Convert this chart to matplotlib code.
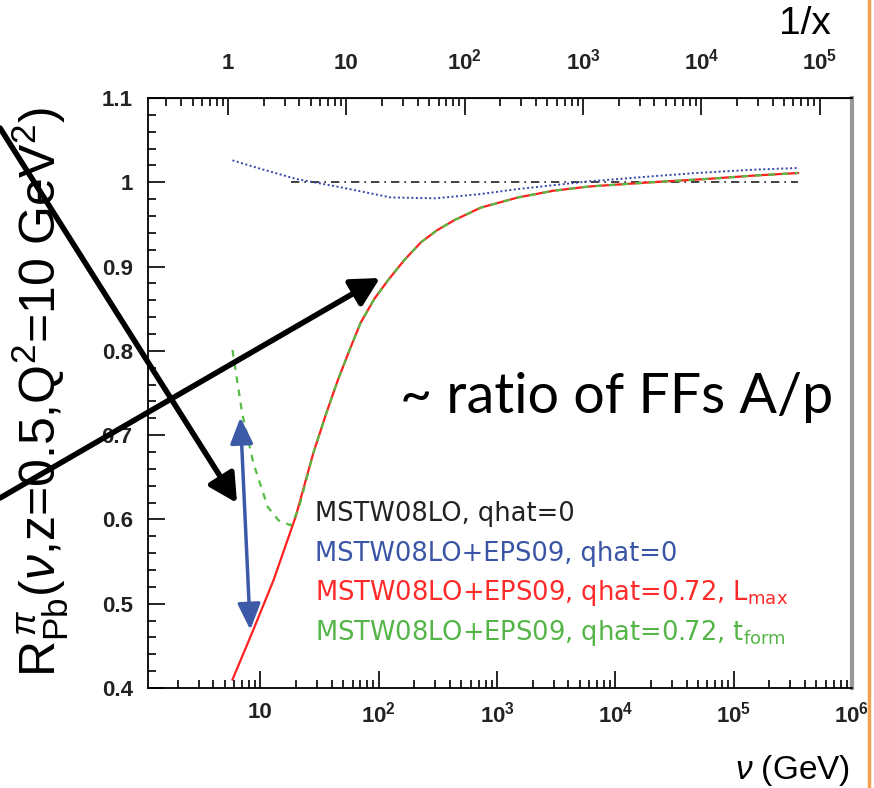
import matplotlib.pyplot as plt
import numpy as np
from matplotlib.lines import Line2D
from matplotlib.patches import FancyArrowPatch
from matplotlib.ticker import FixedLocator, LogLocator, NullFormatter, MultipleLocator

plt.rcParams['font.family'] = ['Liberation Sans', 'DejaVu Sans']
plt.rcParams['mathtext.fontset'] = 'custom'
plt.rcParams['mathtext.rm'] = 'Liberation Sans'
plt.rcParams['mathtext.it'] = 'Liberation Sans:italic'
plt.rcParams['mathtext.bf'] = 'Liberation Sans:bold'

# values
nu_black = [18, 3.5e5]
r_black = [1.0, 1.0]

nu_blue = [5.8, 10, 20, 48, 126, 300, 724, 1500, 5900, 2e4, 4.8e4, 1.5e5, 3.5e5]
r_blue = [1.026, 1.016, 1.004, 0.994, 0.982, 0.981, 0.986, 0.992, 1.001, 1.007, 1.011, 1.015, 1.017]

nu_red = [5.8, 8.7, 12.9, 19.8, 28, 36, 45, 57, 70, 92, 120, 165, 228, 310, 434, 730, 1500, 3000,
          6000, 2e4, 6e4, 1.5e5, 3.5e5]
r_red = [0.41, 0.469, 0.528, 0.603, 0.679, 0.726, 0.765, 0.802, 0.833, 0.862, 0.884, 0.908, 0.929,
         0.943, 0.955, 0.970, 0.982, 0.990, 0.995, 1.000, 1.004, 1.008, 1.011]

nu_green = [5.8, 7.0, 8.7, 11.5, 14.2, 18.0, 21, 28, 36, 45, 57, 70, 92, 120, 165, 228, 310, 434,
            730, 1500, 3000, 6000, 2e4, 6e4, 1.5e5, 3.5e5]
r_green = [0.801, 0.726, 0.667, 0.615, 0.599, 0.593, 0.612, 0.679, 0.726, 0.765, 0.802, 0.833,
           0.862, 0.884, 0.908, 0.929, 0.943, 0.955, 0.970, 0.982, 0.990, 0.995, 1.000, 1.004,
           1.008, 1.011]

nu_ticks = [10, 1e2, 1e3, 1e4, 1e5, 1e6]
nu_labels = ['10', r'$\mathbf{10^2}$', r'$\mathbf{10^3}$', r'$\mathbf{10^4}$', r'$\mathbf{10^5}$',
             r'$\mathbf{10^6}$']
ix_ticks = [1, 10, 1e2, 1e3, 1e4, 1e5]
ix_labels = ['1', '10', r'$\mathbf{10^2}$', r'$\mathbf{10^3}$', r'$\mathbf{10^4}$', r'$\mathbf{10^5}$']
r_ticks = [0.4, 0.5, 0.6, 0.7, 0.8, 0.9, 1.0, 1.1]
r_labels = ['0.4', '0.5', '0.6', '0.7', '0.8', '0.9', '1', '1.1']

legend_texts = ['MSTW08LO, qhat=0',
                'MSTW08LO+EPS09, qhat=0',
                r'MSTW08LO+EPS09, qhat=0.72, L$_{\mathregular{max}}$',
                r'MSTW08LO+EPS09, qhat=0.72, t$_{\mathregular{form}}$']
legend_colors = ['#222222', '#3a55a6', '#ff2a2a', '#55b548']

# 1/x = 2 M nu / Q^2 with M = 0.938 GeV, Q^2 = 10 GeV^2
conv = 2 * 0.938 / 10.0

W, H = 874, 788
fig = plt.figure(figsize=(W / 100, H / 100), dpi=100)
ax = fig.add_axes([148 / W, 1 - 688 / H, 704 / W, 590 / H])

ax.plot(nu_black, r_black, color='#222222', lw=1.2, dashes=(5, 3, 1, 3))
ax.plot(nu_blue, r_blue, color='#3344aa', lw=1.4, dashes=(1, 1.3))
ax.plot(nu_red, r_red, color='#ff2020', lw=1.6)
ax.plot(nu_green, r_green, color='#55bb44', lw=1.6, dashes=(3, 3))

ax.set_xscale('log')
ax.set_xlim(1.12, 1.0e6)
ax.set_ylim(0.4, 1.1)

tick_font = dict(fontsize=16, fontweight='bold', color='#222222')

ax.xaxis.set_major_locator(FixedLocator(nu_ticks))
ax.set_xticklabels(nu_labels, **tick_font)
ax.xaxis.set_minor_locator(LogLocator(base=10, subs=np.arange(2, 10)))
ax.xaxis.set_minor_formatter(NullFormatter())
ax.yaxis.set_major_locator(FixedLocator(r_ticks))
ax.set_yticklabels(r_labels, **tick_font)
ax.yaxis.set_minor_locator(MultipleLocator(0.02))

ax.tick_params(which='both', direction='in', top=False, right=False, width=1.2)
ax.tick_params(which='major', length=12)
ax.tick_params(which='minor', length=6)
ax.tick_params(axis='x', pad=10)
ax.tick_params(axis='y', pad=11)

for s in ['left', 'bottom', 'top']:
    ax.spines[s].set_linewidth(1.3)
ax.spines['right'].set_color('#999999')
ax.spines['right'].set_linewidth(3)

sec = ax.secondary_xaxis('top', functions=(lambda v: v * conv, lambda ix: ix / conv))
sec.xaxis.set_major_locator(FixedLocator(ix_ticks))
sec.set_xticklabels(ix_labels, **tick_font)
sec.xaxis.set_minor_locator(LogLocator(base=10, subs=np.arange(2, 10)))
sec.xaxis.set_minor_formatter(NullFormatter())
sec.tick_params(which='both', direction='in', width=1.2, pad=17)
sec.tick_params(which='major', length=12)
sec.tick_params(which='minor', length=6)

# blue double arrow
ax.annotate('', xy=(8.2, 0.469), xytext=(6.77, 0.721),
            arrowprops=dict(arrowstyle='<|-|>,head_length=0.8,head_width=0.35', color='#3d5aa8',
                            lw=2.5, shrinkA=0, shrinkB=0, mutation_scale=20))

# black arrows in figure pixels
for (x0, y0), (x1, y1) in [((0, 128), (237, 503)), ((0, 498), (380, 278))]:
    fig.add_artist(FancyArrowPatch((x0 / W, 1 - y0 / H), (x1 / W, 1 - y1 / H),
                                   transform=fig.transFigure,
                                   arrowstyle='-|>,head_length=0.85,head_width=0.45',
                                   mutation_scale=20, lw=4, color='black',
                                   shrinkA=0, shrinkB=0))

fig.text(400 / W, 1 - 413 / H, '~ ratio of FFs A/p', fontsize=40, family='Lato',
         ha='left', va='baseline')

for i, (txt, col) in enumerate(zip(legend_texts, legend_colors)):
    fig.text(315 / W, 1 - (521 + 39.7 * i) / H, txt, color=col, fontsize=18.5,
             family='DejaVu Sans', ha='left', va='baseline')

fig.text(40 / W, 1 - 392 / H,
         r'R$_{\mathregular{Pb}}^{\,\pi}$($\nu$,z=0.5,Q$^2$=10 GeV$^2$)',
         rotation=90, fontsize=36, ha='center', va='center')
fig.text(805 / W, 1 - 24 / H, '1/x', fontsize=28, ha='center', va='center')
fig.text(850 / W, 1 - 770 / H, r'$\nu$ (GeV)', fontsize=24, ha='right', va='center')

fig.add_artist(Line2D([869 / W, 869 / W], [0, 1], color='#f2a24e', lw=2.5))

fig.savefig('out.png', dpi=100)
